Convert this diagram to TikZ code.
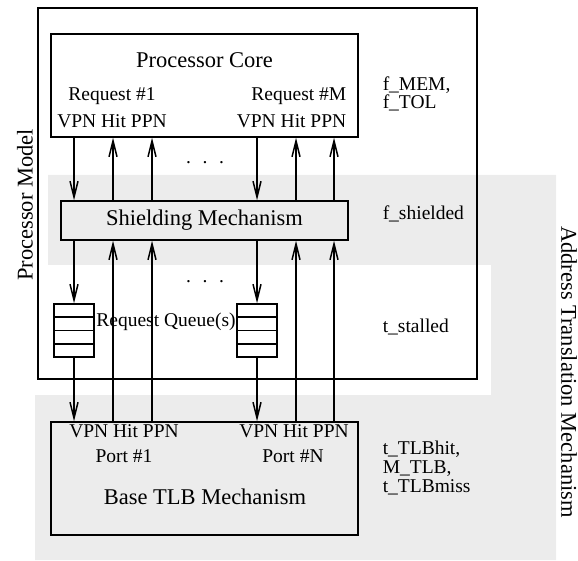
\documentclass[tikz,border=0pt]{standalone}
\usepackage{fontspec}
\setmainfont{Liberation Serif}
\usepackage{tikz}
\usetikzlibrary{arrows.meta,positioning,calc}
\newcommand\lblfont{\fontsize{19.5}{17.5}\selectfont}
\newcommand\ttlfont{\fontsize{22.5}{24}\selectfont}
\colorlet{bandgray}{gray!15}

\begin{document}
\begin{tikzpicture}[x=1pt,y=-1pt,line width=1.5pt,
  every node/.style={font=\lblfont,inner sep=0pt},
  box/.style={draw,rectangle,inner sep=0pt},
  arr/.style={-{Straight Barb[length=16pt,width=8pt]}}]
\useasboundingbox (0,0) rectangle (578,561);
% shaded band of the address translation part
\fill[bandgray] (48,175) -| (556,560) -| (35,395) -| (491,265) -| (48,175) -- cycle;
\draw (38,8) rectangle (477,379);
\node[font=\ttlfont,rotate=90] (pmlabel) at (25,205) {Processor Model};
\node[font=\ttlfont,rotate=-90] (atlabel) at (569,372) {Address Translation Mechanism};

% boxes
\node[box,minimum width=307pt,minimum height=103pt] (core) at (204.5,85.5) {};
\node[font=\ttlfont] (coretitle) at (204.5,60) {Processor Core};
\node (req1) at (112,96) {Request \#1};
\node (sig1) at (112,121) {VPN Hit PPN};
\node[anchor=east] (reqM) at (347,96) {Request \#M};
\node[anchor=east] (sigM) at (347,121) {VPN Hit PPN};

\node[box,fill=bandgray,minimum width=287pt,minimum height=39pt,font=\ttlfont] (shield) at (204.5,220.5) {Shielding Mechanism};

\node[box,minimum width=40pt,minimum height=53pt] (q1) at (74,330.5) {};
\node[box,minimum width=40pt,minimum height=53pt] (q2) at (257,330.5) {};
\node (qlabel) at (166,322) {Request Queue(s)};

\node[box,minimum width=307pt,minimum height=113pt] (tlb) at (204.5,478.5) {};
\node (tsig1) at (124,431) {VPN Hit PPN};
\node (tsigN) at (294,431) {VPN Hit PPN};
\node (port1) at (124,456) {Port \#1};
\node (portN) at (293,456) {Port \#N};
\node[font=\ttlfont] (tlbtitle) at (205,497) {Base TLB Mechanism};

\node (dots1) at (205,163) {.\hspace{11.6pt}.\hspace{11.6pt}.};
\node (dots2) at (205,282) {.\hspace{11.6pt}.\hspace{11.6pt}.};

% parameters
\node[anchor=west,align=left] (pcore) at (382,94) {f\_MEM,\\f\_TOL};
\node[anchor=west] (pshield) at (382,214) {f\_shielded};
\node[anchor=west] (pqueue) at (382,327) {t\_stalled};
\node[anchor=west,align=left,font=\fontsize{19.5}{19}\selectfont] (ptlb) at (382,468) {t\_TLBhit,\\M\_TLB,\\t\_TLBmiss};

% queue slots
\foreach \i in {1,2}{
  \foreach \k in {1,2,3}
    \draw ($(q\i.north west)!\k/4!(q\i.south west)$) -- ($(q\i.north east)!\k/4!(q\i.south east)$);
}

% request ports
\foreach \i/\h/\p in {1/113/152, 2/296/334}{
  \coordinate (hit\i) at (\h,0);
  \coordinate (ppn\i) at (\p,0);
  \draw[arr] (core.south -| q\i) -- (shield.north -| q\i);
  \draw[arr] (shield.south -| q\i) -- (q\i.north);
  \draw[arr] (q\i.south) -- (tlb.north -| q\i);
  \draw[arr] (shield.north -| hit\i) -- (core.south -| hit\i);
  \draw[arr] (shield.north -| ppn\i) -- (core.south -| ppn\i);
  \draw[arr] (tlb.north -| hit\i) -- (shield.south -| hit\i);
  \draw[arr] (tlb.north -| ppn\i) -- (shield.south -| ppn\i);
}
\end{tikzpicture}
\end{document}
